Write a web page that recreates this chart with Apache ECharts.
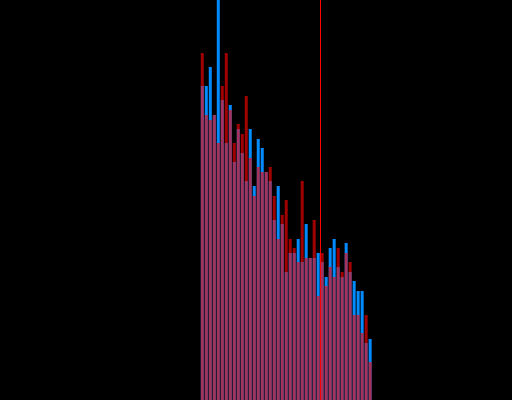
<!DOCTYPE html>
<html>
<head>
<meta charset="utf-8">
<script src="https://cdn.jsdelivr.net/npm/echarts@6/dist/echarts.min.js"></script>
<style>
  html, body { margin: 0; padding: 0; background: #000; }
  #chart { width: 512px; height: 400px; }
</style>
</head>
<body>
<div id="chart"></div>
<script>
// 128 bins, data only occupies bins 50..92
const binCount = 128
const firstBin = 50
const categories = Array.from({length: binCount}, (_, i) => String(i))

const blueValues = [314, 314, 333, 285, 400, 300, 257, 295, 238, 271, 247,
  219, 271, 214, 261, 252, 228, 219, 180, 214, 176, 128,
  147, 147, 161, 138, 176, 142, 142, 147, 138, 123, 152,
  161, 133, 123, 157, 128, 119, 109, 109, 57, 61]
const redValues = [347, 285, 280, 285, 257, 314, 347, 290, 257, 276, 266,
  304, 242, 204, 233, 228, 228, 233, 204, 161, 185, 200,
  161, 152, 138, 219, 142, 142, 180, 104, 147, 114, 133,
  123, 152, 128, 147, 138, 85, 85, 67, 85, 38]
// marker sits on the left edge of bin 80
const markPos = 80

// pad to full bin range
const pad = (vals) => {
  const out = new Array(binCount).fill(null)
  vals.forEach((v, i) => { out[firstBin + i] = v })
  return out
}

const myChart = echarts.init(document.getElementById('chart'))
myChart.setOption({
  backgroundColor: '#000',
  animation: false,
  grid: { left: 0.5, right: 0, top: 0, bottom: 0 },
  xAxis: [
    {
      type: 'category',
      data: categories,
      show: false
    },
    {
      // helper axis so the marker can sit between bins
      type: 'value',
      min: 0,
      max: binCount,
      show: false
    }
  ],
  yAxis: {
    type: 'value',
    min: 0,
    max: 400,
    show: false
  },
  series: [
    {
      type: 'bar',
      data: pad(blueValues),
      barWidth: 3,
      barGap: '-100%',
      itemStyle: { color: '#008cff' }
    },
    {
      type: 'bar',
      data: pad(redValues),
      barWidth: 3,
      barGap: '-100%',
      itemStyle: { color: '#ff0000', opacity: 0.63 }
    },
    {
      type: 'line',
      xAxisIndex: 1,
      data: [],
      markLine: {
        silent: true,
        symbol: 'none',
        label: { show: false },
        lineStyle: { color: '#ff0000', width: 1, type: 'solid' },
        data: [{ xAxis: markPos }]
      }
    }
  ]
})
</script>
</body>
</html>
